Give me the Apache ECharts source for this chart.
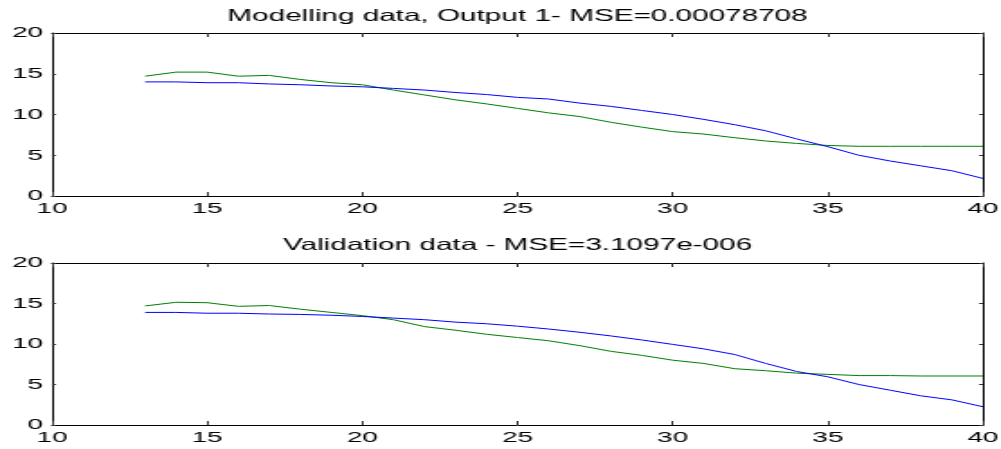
<!DOCTYPE html>
<html>
<head>
<meta charset="utf-8">
<script src="https://cdn.jsdelivr.net/npm/echarts@6/dist/echarts.min.js"></script>
<style>
html,body{margin:0;padding:0;background:#fff;overflow:hidden;}
#wrap{width:1001px;height:449px;overflow:hidden;}
#chart{height:449px;transform-origin:0 0;}
</style>
</head>
<body>
<div id="wrap"><div id="chart"></div></div>
<script>
// ---- data ----
const xValues = [13,14,15,16,17,18,19,20,21,22,23,24,25,26,27,28,29,30,31,32,33,34,35,36,37,38,39,40];
const modelMeasured = [14.7,15.2,15.2,14.7,14.8,14.3,13.9,13.65,13.0,12.4,11.8,11.3,10.75,10.2,9.75,9.05,8.45,7.9,7.6,7.15,6.75,6.45,6.2,6.1,6.1,6.1,6.1,6.1];
const modelOutput   = [14.0,14.0,13.9,13.9,13.75,13.65,13.5,13.4,13.2,13.0,12.7,12.45,12.1,11.9,11.4,11.0,10.5,10.0,9.4,8.75,8.0,7.0,6.05,5.0,4.3,3.7,3.1,2.15];
const validMeasured = [14.7,15.15,15.1,14.65,14.75,14.3,13.9,13.5,13.0,12.15,11.7,11.2,10.8,10.4,9.8,9.1,8.6,8.0,7.6,6.95,6.7,6.4,6.25,6.1,6.1,6.05,6.05,6.05];
const validOutput   = [13.9,13.9,13.8,13.8,13.7,13.65,13.55,13.4,13.2,13.0,12.7,12.5,12.2,11.85,11.45,11.0,10.5,9.95,9.4,8.7,7.6,6.6,5.95,5.0,4.3,3.6,3.1,2.25];
const xTicks = [10,15,20,25,30,35,40];
const yTicks = [0,5,10,15,20];
const titles = ['Modelling data, Output 1- MSE=0.00078708', 'Validation data - MSE=3.1097e-006'];

// ---- layout (page px, converted to unscaled coords) ----
const S = 1.8;
const el = document.getElementById('chart');
el.style.width = ((1001 + 40) / S) + 'px';
el.style.transform = 'scaleX(' + S + ')';
const FONT = '"Liberation Sans", Arial, sans-serif';
const plotLeft = 52, plotRight = 983;
const grids = [{top:33, bottom:196}, {top:263, bottom:425}];
const titleTops = [8, 237];

const pair = (a, b) => a.map((v, i) => [b[i], v]);
const frameColor = '#000';
const tickColor = '#333';

const option = {
  animation: false,
  backgroundColor: '#fff',
  title: grids.map((g, i) => ({
    text: titles[i],
    left: ((plotLeft + plotRight) / 2) / S,
    top: titleTops[i],
    textAlign: 'center',
    padding: 0,
    textStyle: {fontFamily: FONT, fontSize: 16.5, fontWeight: 'normal', color: '#000'}
  })),
  grid: grids.map(g => ({
    left: plotLeft / S, width: (plotRight - plotLeft) / S,
    top: g.top, height: g.bottom - g.top,
    containLabel: false
  })),
  xAxis: [],
  yAxis: [],
  series: []
};

grids.forEach((g, i) => {
  option.xAxis.push({
    type: 'value', gridIndex: i, min: xTicks[0], max: xTicks[xTicks.length - 1], interval: 5,
    position: 'bottom',
    axisLine: {show: true, onZero: false, lineStyle: {color: frameColor, width: 1}},
    axisTick: {show: true, inside: true, length: 4, lineStyle: {color: tickColor}},
    axisLabel: {show: true, margin: 5, fontFamily: FONT, fontSize: 15.5, color: '#000'},
    splitLine: {show: false}
  });
  option.xAxis.push({
    type: 'value', gridIndex: i, min: xTicks[0], max: xTicks[xTicks.length - 1], interval: 5,
    position: 'top',
    axisLine: {show: true, onZero: false, lineStyle: {color: frameColor, width: 1}},
    axisTick: {show: true, inside: true, length: 4, lineStyle: {color: tickColor}},
    axisLabel: {show: false},
    splitLine: {show: false}
  });
  option.yAxis.push({
    type: 'value', gridIndex: i, min: yTicks[0], max: yTicks[yTicks.length - 1], interval: 5,
    position: 'left',
    axisLine: {show: true, onZero: false, lineStyle: {color: frameColor, width: 1}},
    axisTick: {show: true, inside: true, length: 4 / S, lineStyle: {color: tickColor}},
    axisLabel: {show: true, margin: 9 / S, fontFamily: FONT, fontSize: 15.5, color: '#000'},
    splitLine: {show: false}
  });
  option.yAxis.push({
    type: 'value', gridIndex: i, min: yTicks[0], max: yTicks[yTicks.length - 1], interval: 5,
    position: 'right',
    axisLine: {show: true, onZero: false, lineStyle: {color: frameColor, width: 1}},
    axisTick: {show: true, inside: true, length: 4 / S, lineStyle: {color: tickColor}},
    axisLabel: {show: false},
    splitLine: {show: false}
  });
});

const sets = [[modelMeasured, modelOutput], [validMeasured, validOutput]];
sets.forEach((s, i) => {
  option.series.push({
    name: 'Measured', type: 'line', xAxisIndex: 2 * i, yAxisIndex: 2 * i,
    data: pair(s[0], xValues), symbol: 'none', smooth: false,
    lineStyle: {color: '#008000', width: 1}
  });
  option.series.push({
    name: 'Model output', type: 'line', xAxisIndex: 2 * i, yAxisIndex: 2 * i,
    data: pair(s[1], xValues), symbol: 'none', smooth: false,
    lineStyle: {color: '#0000ff', width: 1}
  });
});

const chart = echarts.init(el, null, {renderer: 'canvas'});
chart.setOption(option);
</script>
</body>
</html>
